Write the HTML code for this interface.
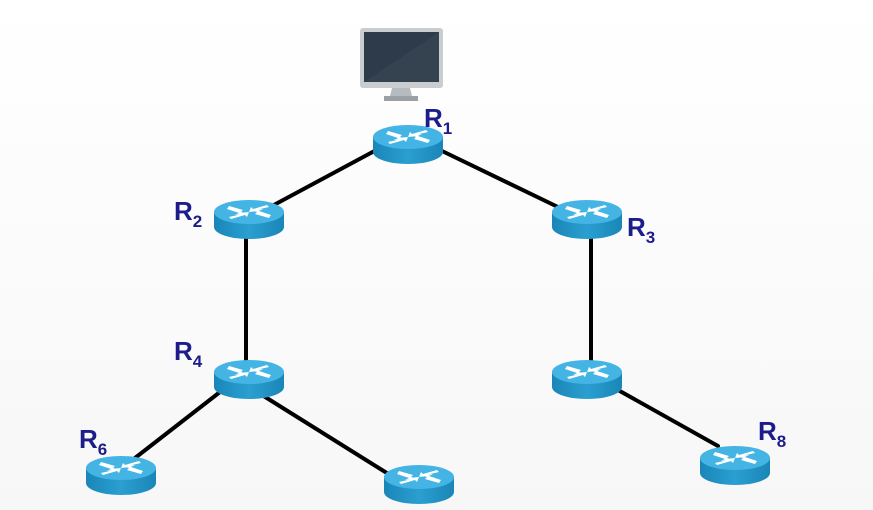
<!DOCTYPE html>
<html><head><meta charset="utf-8"><style>
body{margin:0;width:873px;height:510px;overflow:hidden;background:#fff;}
svg{display:block}
text{font-family:"Liberation Sans",sans-serif;font-weight:bold;fill:#1c1c8a}
</style></head><body>
<svg width="873" height="510" viewBox="0 0 873 510">
<defs>
<linearGradient id="bg" x1="0" y1="0" x2="0" y2="1"><stop offset="0" stop-color="#ffffff"/><stop offset="1" stop-color="#f7f7f7"/></linearGradient>
<linearGradient id="side" x1="0" y1="0" x2="1" y2="0"><stop offset="0" stop-color="#1a86b8"/><stop offset="0.5" stop-color="#2a9fd0"/><stop offset="1" stop-color="#1a86b8"/></linearGradient>
<g id="rt">
<path d="M-35,0 L-35,15 A35,12 0 0 0 35,15 L35,0 Z" fill="url(#side)"/>
<ellipse cx="0" cy="0" rx="35" ry="12" fill="#44b4e4"/>
<g fill="#fff">
<path d="M-20,-6 L-6,-2 L-8,0 L-2,2 L-14,3 L-10,1 L-22,-3 Z"/>
<path d="M20,6 L6,2 L8,0 L2,-2 L14,-3 L10,-1 L22,3 Z"/>
<path d="M18,-7 L4,-3 L2,-5 L0,0 L10,-1 L7,-2 L20,-5 Z"/>
<path d="M-18,7 L-4,3 L-2,5 L0,0 L-10,1 L-7,2 L-20,5 Z"/>
</g>
</g>
</defs>
<rect width="873" height="510" fill="url(#bg)"/>
<g stroke="#000" stroke-width="4" stroke-linecap="round">
<line x1="380" y1="148" x2="272" y2="206"/>
<line x1="440" y1="150" x2="560" y2="208"/>
<line x1="246" y1="228" x2="246" y2="362"/>
<line x1="591" y1="228" x2="591" y2="362"/>
<line x1="220" y1="392" x2="135" y2="458"/>
<line x1="262" y1="395" x2="390" y2="475"/>
<line x1="618" y1="390" x2="718" y2="446"/>
</g>
<!-- monitor -->
<rect x="360" y="28" width="83" height="60" rx="3" fill="#c9cdd0"/>
<rect x="364" y="32" width="75" height="50" fill="#2d3b4a"/>
<path d="M364,82 L439,32 L439,82 Z" fill="#34434f"/>
<path d="M392,88 L410,88 L412,96 L390,96 Z" fill="#b5bbbf"/>
<rect x="384" y="96" width="34" height="5" fill="#9aa1a6"/>
<use href="#rt" x="408" y="137"/>
<use href="#rt" x="249" y="212"/>
<use href="#rt" x="587" y="212"/>
<use href="#rt" x="249" y="372"/>
<use href="#rt" x="587" y="372"/>
<use href="#rt" x="121" y="468"/>
<use href="#rt" x="419" y="477"/>
<use href="#rt" x="735" y="458"/>
<text x="424" y="127" font-size="26">R<tspan font-size="17" dy="7">1</tspan></text>
<text x="174" y="220" font-size="26">R<tspan font-size="17" dy="7">2</tspan></text>
<text x="627" y="236" font-size="26">R<tspan font-size="17" dy="7">3</tspan></text>
<text x="174" y="360" font-size="26">R<tspan font-size="17" dy="7">4</tspan></text>
<text x="79" y="448" font-size="26">R<tspan font-size="17" dy="7">6</tspan></text>
<text x="758" y="440" font-size="26">R<tspan font-size="17" dy="7">8</tspan></text>
</svg>
</body></html>
